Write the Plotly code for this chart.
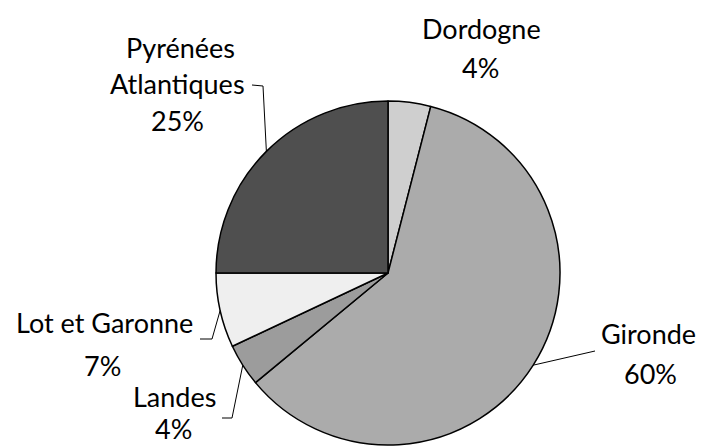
import math
import plotly.graph_objects as go

departements = ["Dordogne", "Gironde", "Landes", "Lot et Garonne", "Pyrénées Atlantiques"]
parts = [4, 60, 4, 7, 25]
couleurs = ["#cfcfcf", "#ababab", "#9c9c9c", "#efefef", "#4f4f4f"]

W, H = 706, 447
CX, CY, R = 388, 273, 172

fig = go.Figure(go.Pie(
    labels=departements, values=parts, sort=False, direction="clockwise", rotation=0,
    marker=dict(colors=couleurs, line=dict(color="black", width=1.5)),
    textinfo="none", hoverinfo="label+percent", showlegend=False,
    domain=dict(x=[(CX - R) / W, (CX + R) / W], y=[(H - CY - R) / H, (H - CY + R) / H]),
))

# label lines: words with pixel positions, percent position
label_lines = {
    0: [["Dordogne"], [(482, 28)], (480, 68, "middle")],
    1: [["Gironde"], [(648, 333)], (650, 373, "middle")],
    2: [["Landes"], [(174, 396)], (173, 447, "bottom")],
    3: [["Lot et Garonne"], [(104, 322)], (102, 365, "middle")],
    4: [["Pyrénées", "Atlantiques"], [(180, 48), (177, 83)], (177, 121, "middle")],
}
elbows = {
    0: None,
    1: [(595, 351)],
    2: [(232, 418), (222, 418)],
    3: [(212, 339), (200, 339)],
    4: [(263, 86), (252, 85)],
}

font = dict(family="Lato, 'Open Sans', sans-serif", size=27, color="black")

def add_text(t, x, y, anchor="middle"):
    fig.add_annotation(x=x / W, y=1 - y / H, xref="paper", yref="paper", text=t,
                       showarrow=False, font=font, xanchor="center", yanchor=anchor)

total = sum(parts)
cum = 0
for i, v in enumerate(parts):
    mid = (cum + v / 2) / total * 2 * math.pi
    cum += v
    ex = CX + R * math.sin(mid)
    ey = CY - R * math.cos(mid)
    words, poss, pct_pos = label_lines[i]
    for w, (x, y) in zip(words, poss):
        add_text(w, x, y)
    add_text(f"{round(v / total * 100)}%", *pct_pos)
    if elbows[i]:
        pts = [(ex, ey)] + elbows[i]
        path = "M " + " L ".join(f"{p[0]/W},{1 - p[1]/H}" for p in pts)
        fig.add_shape(type="path", path=path, xref="paper", yref="paper",
                      line=dict(color="black", width=1))

fig.update_layout(width=W, height=H, margin=dict(l=0, r=0, t=0, b=0),
                  paper_bgcolor="white", plot_bgcolor="white")
fig.write_html("out.html", config={"displayModeBar": False},
               post_script="document.body.style.margin='0';document.body.style.overflow='hidden';")
